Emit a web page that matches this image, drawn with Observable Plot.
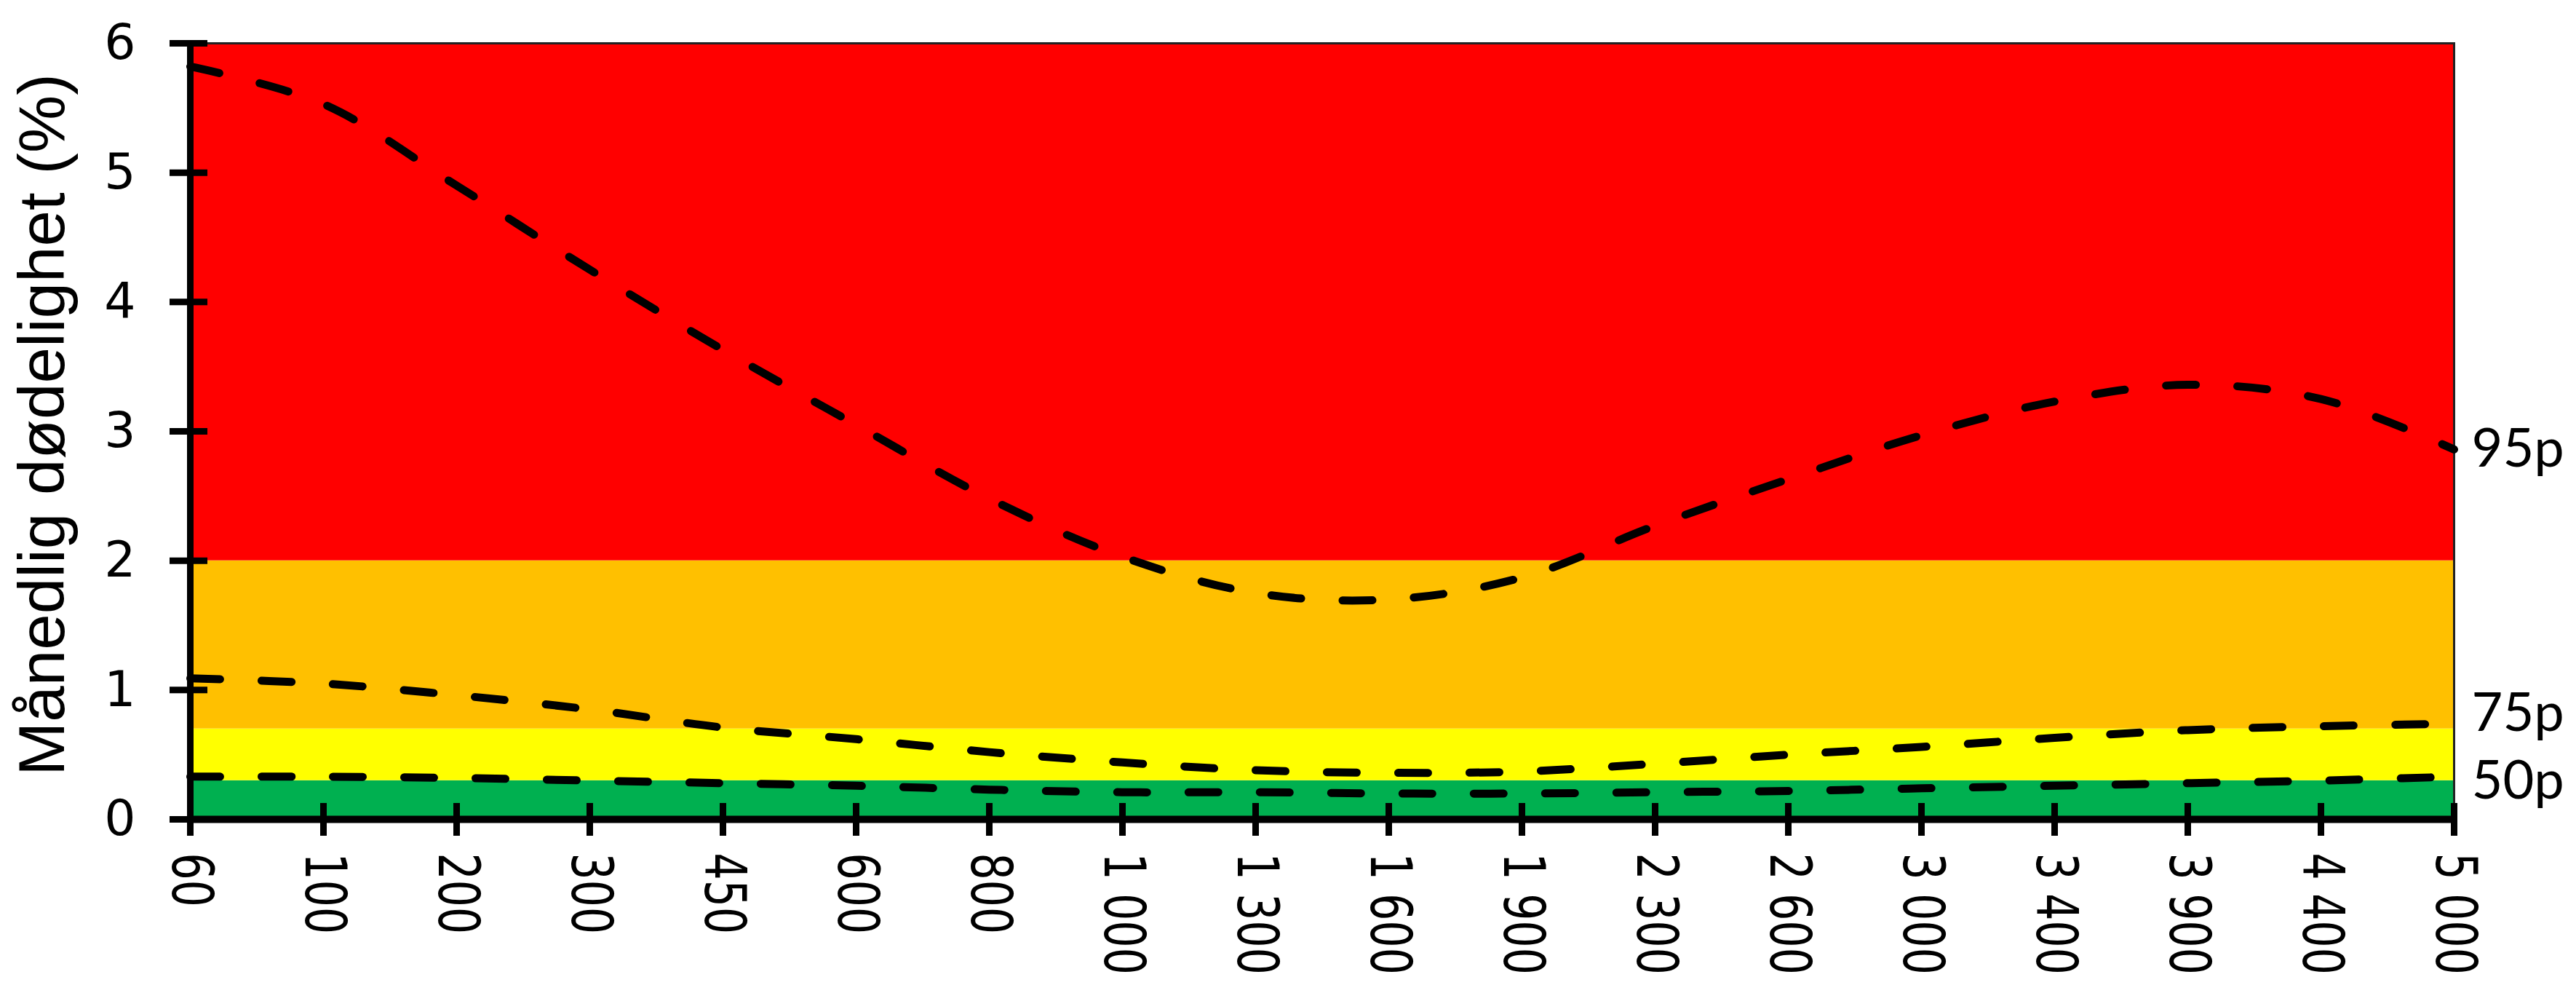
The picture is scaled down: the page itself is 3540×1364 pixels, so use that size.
<!DOCTYPE html>
<html>
<head>
<meta charset="utf-8">
<script src="https://cdn.jsdelivr.net/npm/d3@7"></script>
<script src="https://cdn.jsdelivr.net/npm/@observablehq/plot@0.6"></script>
<style>
  html, body { margin: 0; padding: 0; background: #fff; }
  #chart svg { display: block; }
</style>
</head>
<body>
<div id="chart"></div>
<script>
// ---- data ----
const xLabels = ["60","100","200","300","450","600","800","1 000","1 300","1 600","1 900","2 300","2 600","3 000","3 400","3 900","4 400","5 000"];
const p95 = [5.82, 5.53, 4.90, 4.25, 3.63, 3.05, 2.48, 2.03, 1.75, 1.70, 1.87, 2.27, 2.63, 2.97, 3.23, 3.36, 3.25, 2.86];
const p75 = [1.09, 1.05, 0.96, 0.85, 0.71, 0.62, 0.52, 0.44, 0.38, 0.36, 0.37, 0.43, 0.50, 0.56, 0.63, 0.69, 0.72, 0.74];
const p50 = [0.33, 0.33, 0.32, 0.30, 0.28, 0.26, 0.23, 0.21, 0.21, 0.20, 0.20, 0.21, 0.22, 0.24, 0.26, 0.28, 0.30, 0.33];
const seriesNames = ["95p", "75p", "50p"];
const bandLow = [0, 0.3, 0.7, 2];
const bandHigh = [0.3, 0.7, 2, 6];
const bandColors = ["#00B050", "#FFFF00", "#FFC000", "#FF0000"];
const yTicks = [0, 1, 2, 3, 4, 5, 6];
const yTitle = "Månedlig dødelighet (%)";

// ---- tables ----
const seriesValues = [p95, p75, p50];
const lineData = seriesNames.flatMap((s, k) => xLabels.map((c, i) => ({series: s, cat: c, value: seriesValues[k][i]})));
const endData = seriesNames.map((s, k) => ({series: s, cat: xLabels[xLabels.length - 1], value: seriesValues[k][xLabels.length - 1]}));
const bands = bandLow.map((lo, i) => ({lo, hi: bandHigh[i], color: bandColors[i]}));

const endLabel = (name, dy) => Plot.text(endData.filter(d => d.series === name), {
  x: "cat", y: "value", text: "series", textAnchor: "start", lineAnchor: "middle",
  dx: 24, dy, fontSize: 74, fontFamily: "Lato", fill: "black"
});

const chart = Plot.plot({
  width: 3540,
  height: 1364,
  marginLeft: 260,
  marginRight: 168,
  marginTop: 59,
  marginBottom: 239,
  style: {background: "white", color: "black", fontFamily: "DejaVu Sans"},
  x: {type: "point", domain: xLabels, padding: 0, label: null},
  y: {domain: [0, 6], label: null},
  color: {type: "identity"},
  marks: [
    Plot.rect(bands, {y1: "lo", y2: "hi", fill: "color"}),
    Plot.frame({stroke: "#222", strokeWidth: 3}),
    Plot.line(lineData, {
      x: "cat", y: "value", z: "series", stroke: "black", strokeWidth: 11,
      strokeDasharray: "41,57", strokeLinecap: "round", curve: "catmull-rom"
    }),
    Plot.ruleX([xLabels[0]], {stroke: "black", strokeWidth: 9}),
    Plot.ruleY([0], {stroke: "black", strokeWidth: 10}),
    // y ticks crossing the axis
    Plot.axisY(yTicks, {tickSize: 52, dx: 25, fill: "none", stroke: "black", strokeWidth: 9, label: null}),
    // y tick labels
    Plot.axisY(yTicks, {tickSize: 0, tickPadding: 74, stroke: "none", fill: "black", fontSize: 68, fontFamily: "DejaVu Sans", tickFormat: d => String(d), label: null}),
    // x ticks crossing the axis
    Plot.axisX({tickSize: 45, dy: -22, fill: "none", stroke: "black", strokeWidth: 9, label: null}),
    // x tick labels, rotated
    Plot.text(xLabels, {
      x: d => d, frameAnchor: "bottom", rotate: 90, textAnchor: "start", lineAnchor: "middle",
      dy: 46, fontSize: 78, fontFamily: "DejaVu Sans", fill: "black"
    }),
    // y title
    Plot.text([yTitle], {
      frameAnchor: "left", rotate: -90, textAnchor: "middle", lineAnchor: "bottom",
      dx: -173, dy: -9, fontSize: 89, fontFamily: "Liberation Sans", fill: "black"
    }),
    endLabel("95p", 0),
    endLabel("75p", -14),
    endLabel("50p", 6)
  ]
});

document.getElementById("chart").appendChild(chart);

// condense rotated x labels along their length
d3.select(chart).selectAll("text").each(function () {
  const t = this.getAttribute("transform") || "";
  if (/rotate\(90\)/.test(t)) this.setAttribute("transform", t + " scale(0.75,1)");
});
</script>
</body>
</html>
